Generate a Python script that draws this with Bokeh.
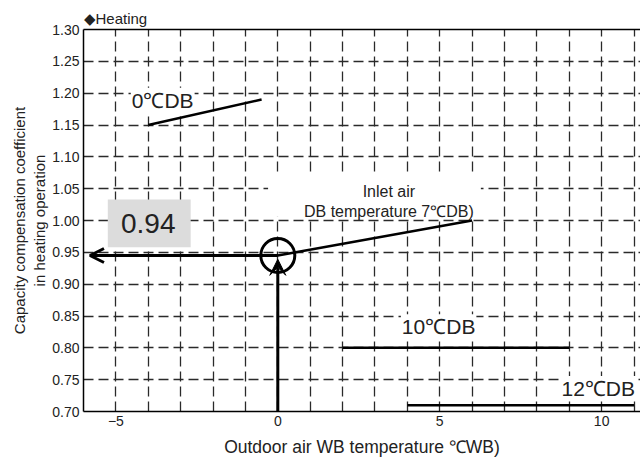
from bokeh.plotting import figure
from bokeh.models import (Range1d, FixedTicker, NumeralTickFormatter, Label, Arrow,
                          VeeHead, OpenHead, LinearAxis, BoxAnnotation)
from bokeh.embed import file_html
from bokeh.resources import INLINE

# ---- data ----
cdb0_x = [-4.0, -0.5]
cdb0_y = [1.15, 1.19]
cdb7_x = [0.0, 6.0]
cdb7_y = [0.945, 1.00]
cdb10_x = [2.0, 9.0]
cdb10_y = [0.80, 0.80]
cdb12_x = [4.0, 11.0]
cdb12_y = [0.71, 0.71]
read_wb = 0.0
read_coef = 0.945
read_label = "0.94"

x_ticks = [-5, 0, 5, 10]
x_grid = [-5, -4, -3, -2, -1, 0, 1, 2, 3, 4, 5, 6, 7, 8, 9, 10, 11]
y_ticks = [0.70, 0.75, 0.80, 0.85, 0.90, 0.95, 1.00, 1.05, 1.10, 1.15, 1.20, 1.25, 1.30]
y_grid = [0.75, 0.80, 0.85, 0.90, 0.95, 1.00, 1.05, 1.10, 1.15, 1.20, 1.25]

FONT = "Liberation Sans"
TXT = "#222222"

p = figure(width=640, height=459, x_range=Range1d(-6, 11.2), y_range=Range1d(0.70, 1.30),
           output_backend="svg", toolbar_location=None,
           min_border_left=83, min_border_right=0, min_border_top=29, min_border_bottom=46)
p.outline_line_color = None
p.background_fill_color = "white"
p.border_fill_color = "white"

# title
p.title.text = "\u25c6Heating"
p.title.align = "left"
p.title.text_font = FONT
p.title.text_font_size = "15px"
p.title.text_font_style = "normal"
p.title.text_color = TXT
p.title.standoff = 5

# grid
p.xgrid.ticker = FixedTicker(ticks=x_grid)
p.ygrid.ticker = FixedTicker(ticks=y_grid)
for g in (p.xgrid, p.ygrid):
    g.grid_line_color = "#2a2a2a"
    g.grid_line_dash = "10 5"
    g.grid_line_width = 1.3

# axes
p.xaxis.ticker = FixedTicker(ticks=x_ticks)
p.xaxis.major_label_overrides = {-5: "\u22125"}
p.yaxis.ticker = FixedTicker(ticks=y_ticks)
p.yaxis.formatter = NumeralTickFormatter(format="0.00")
for ax in (p.xaxis, p.yaxis):
    ax.axis_line_color = "black"
    ax.axis_line_width = 1.5
    ax.major_tick_in = 0
    ax.major_tick_out = 0
    ax.minor_tick_line_color = None
    ax.major_label_text_font = FONT
    ax.major_label_text_font_size = "14px"
    ax.major_label_text_color = TXT
    ax.axis_label_text_font = FONT
    ax.axis_label_text_font_style = "normal"
    ax.axis_label_text_color = TXT
p.yaxis.major_label_standoff = 4
p.xaxis.major_label_standoff = 4
p.xaxis.axis_label = "Outdoor air WB temperature \u2103WB)"
p.xaxis.axis_label_text_font_size = "17.5px"
p.xaxis.axis_label_standoff = 8
p.yaxis.axis_label = "Capacity compensation coefficient\nin heating operation"
p.yaxis.axis_label_text_font_size = "15px"
p.yaxis.axis_label_standoff = 1

top = LinearAxis(ticker=FixedTicker(ticks=[]), major_label_text_font_size="0px",
                 major_tick_line_color=None, minor_tick_line_color=None,
                 axis_line_color="black", axis_line_width=1.5, major_label_standoff=0)
p.add_layout(top, "above")

# white box behind inlet label
p.add_layout(BoxAnnotation(left=-0.3, right=6.27, bottom=1.006, top=1.072,
                           fill_color="white", fill_alpha=1, line_color=None))
# gray value box
p.add_layout(BoxAnnotation(left=-5.25, right=-2.69, bottom=0.958, top=1.033,
                           fill_color="#dcdcdc", fill_alpha=1, line_color=None))

# curves
for xs, ys in ((cdb0_x, cdb0_y), (cdb7_x, cdb7_y), (cdb10_x, cdb10_y), (cdb12_x, cdb12_y)):
    p.line(xs, ys, line_color="black", line_width=2.5)

# reading marks
p.scatter([read_wb], [read_coef], size=34, fill_color=None, line_color="black", line_width=3)
p.add_layout(Arrow(end=VeeHead(size=16, fill_color="black", line_color="black"),
                   x_start=read_wb, y_start=0.70, x_end=read_wb, y_end=read_coef - 0.006,
                   line_width=3, line_color="black"))
p.add_layout(Arrow(end=OpenHead(size=14, line_width=3, line_color="black"),
                   x_start=read_wb, y_start=read_coef, x_end=-5.8, y_end=read_coef,
                   line_width=3, line_color="black"))

def lab(x, y, t, size, align="left", bg=None):
    l = Label(x=x, y=y, text=t, text_font=FONT, text_font_size=size, text_color=TXT,
              text_align=align, text_baseline="middle")
    if bg:
        l.background_fill_color = bg
        l.padding = 1
    p.add_layout(l)

lab(-4.0, 0.995, read_label, "28px", align="center")
lab(-4.54, 1.189, "0\u2103DB", "21px", bg="white")
lab(3.43, 1.045, "Inlet air", "16px", align="center")
lab(3.43, 1.014, "DB temperature 7\u2103DB)", "16px", align="center")
lab(3.8, 0.833, "10\u2103DB", "21px", bg="white")
lab(8.73, 0.736, "12\u2103DB", "21px", bg="white")

open("out.html", "w").write(file_html(p, INLINE))
